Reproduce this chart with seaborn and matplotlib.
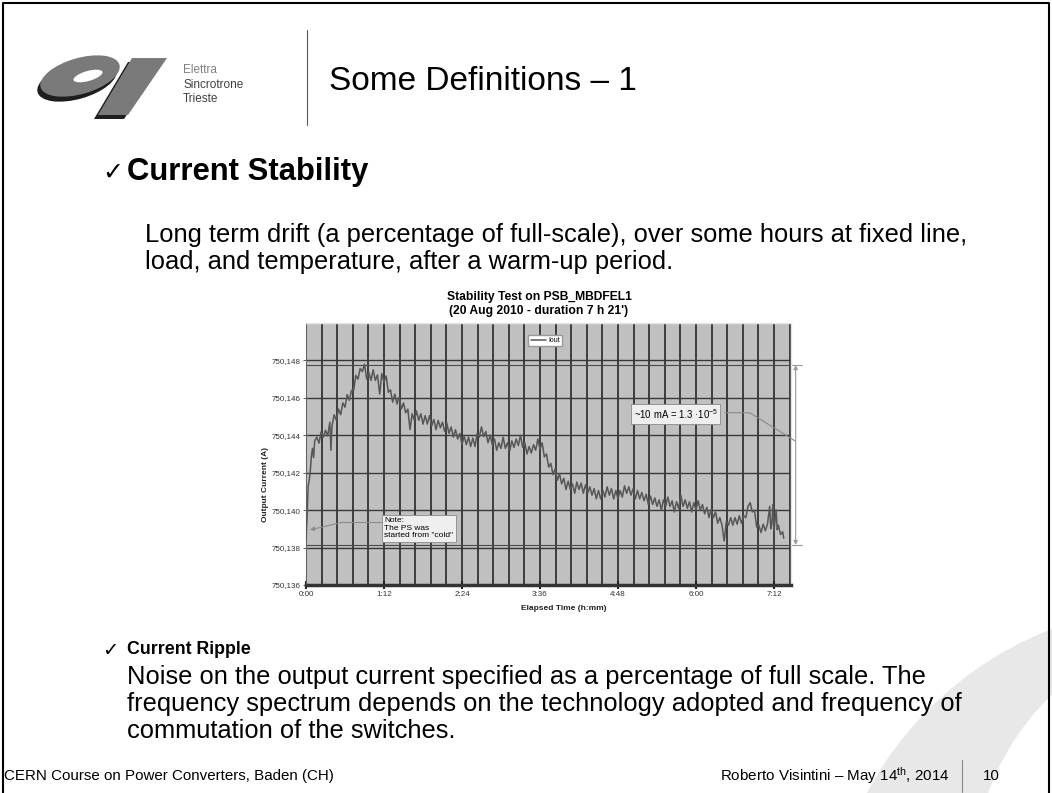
import matplotlib
matplotlib.use("Agg")
import pandas as pd
import matplotlib.pyplot as plt
import seaborn as sns
from matplotlib.patches import Ellipse, Polygon, Circle
from matplotlib.ticker import MultipleLocator, FixedLocator

# --- data (elapsed minutes, output current in A) ---
elapsed_min = [
    0, 1, 2, 3, 4, 5, 6, 7, 8, 10,
    12, 14, 16, 18, 20, 22, 23, 24, 26, 28,
    30, 32, 34, 36, 38, 40, 42, 44, 46, 48,
    50, 52, 54, 56, 58, 60, 62, 64, 66, 68,
    70, 72, 74, 76, 78, 80, 82, 84, 86, 88,
    90, 92, 94, 96, 98, 100, 102, 104, 106, 108,
    110, 112, 114, 116, 118, 120, 122, 124, 126, 128,
    130, 132, 134, 136, 138, 140, 142, 144, 146, 148,
    150, 152, 154, 156, 158, 160, 162, 164, 166, 168,
    170, 172, 174, 176, 178, 180, 182, 184, 186, 188,
    190, 192, 194, 196, 198, 200, 202, 204, 206, 208,
    210, 212, 214, 216, 218, 220, 222, 224, 226, 228,
    230, 232, 234, 236, 238, 240, 242, 244, 246, 248,
    250, 252, 254, 256, 258, 260, 262, 264, 266, 268,
    270, 272, 274, 276, 278, 280, 282, 284, 286, 288,
    290, 292, 294, 296, 298, 300, 302, 304, 306, 308,
    310, 312, 314, 316, 318, 320, 322, 324, 326, 328,
    330, 332, 334, 336, 338, 340, 342, 344, 346, 348,
    350, 352, 354, 356, 358, 360, 362, 364, 366, 368,
    370, 372, 374, 376, 378, 380, 382, 384, 386, 388,
    390, 392, 394, 396, 398, 400, 402, 404, 406, 408,
    410, 412, 414, 416, 418, 420, 422, 424, 426,
    428, 429, 430, 431, 432, 434, 435, 436, 438, 440, 441,
]
iout_a = [
    750.13840, 750.13960, 750.14130, 750.14160, 750.14210, 750.14290, 750.14330, 750.14280, 750.14370, 750.14390,
    750.14358, 750.14420, 750.14390, 750.14427, 750.14397, 750.14470, 750.14320, 750.14450, 750.14510, 750.14480,
    750.14540, 750.14510, 750.14573, 750.14550, 750.14617, 750.14587, 750.14640, 750.14640, 750.14720, 750.14700,
    750.14757, 750.14740, 750.14780, 750.14700, 750.14737, 750.14693, 750.14750, 750.14693, 750.14723, 750.14620,
    750.14730, 750.14683, 750.14717, 750.14630, 750.14643, 750.14577, 750.14620, 750.14567, 750.14603, 750.14540,
    750.14573, 750.14520, 750.14540, 750.14430, 750.14515, 750.14480, 750.14530, 750.14480, 750.14515, 750.14460,
    750.14505, 750.14460, 750.14505, 750.14450, 750.14485, 750.14430, 750.14480, 750.14440, 750.14470, 750.14420,
    750.14465, 750.14410, 750.14445, 750.14390, 750.14430, 750.14380, 750.14410, 750.14350, 750.14395, 750.14350,
    750.14390, 750.14340, 750.14385, 750.14340, 750.14410, 750.14390, 750.14445, 750.14393, 750.14420, 750.14360,
    750.14400, 750.14350, 750.14380, 750.14320, 750.14360, 750.14330, 750.14390, 750.14330, 750.14360, 750.14315,
    750.14370, 750.14335, 750.14380, 750.14345, 750.14400, 750.14335, 750.14360, 750.14300, 750.14340, 750.14305,
    750.14350, 750.14320, 750.14380, 750.14325, 750.14360, 750.14285, 750.14300, 750.14230, 750.14250, 750.14190,
    750.14220, 750.14160, 750.14195, 750.14140, 750.14170, 750.14110, 750.14155, 750.14110, 750.14140, 750.14090,
    750.14150, 750.14110, 750.14145, 750.14090, 750.14135, 750.14090, 750.14125, 750.14080, 750.14115, 750.14060,
    750.14105, 750.14060, 750.14105, 750.14070, 750.14125, 750.14080, 750.14115, 750.14060, 750.14105, 750.14060,
    750.14105, 750.14070, 750.14130, 750.14090, 750.14125, 750.14080, 750.14115, 750.14060, 750.14105, 750.14060,
    750.14095, 750.14050, 750.14085, 750.14030, 750.14075, 750.14030, 750.14065, 750.14020, 750.14055, 750.14000,
    750.14055, 750.14020, 750.14070, 750.14020, 750.14050, 750.13990, 750.14045, 750.14010, 750.14080, 750.14020,
    750.14055, 750.14010, 750.14045, 750.13990, 750.14040, 750.14000, 750.14050, 750.14000, 750.14030, 750.13980,
    750.14015, 750.13960, 750.14005, 750.13960, 750.13990, 750.13930, 750.13960, 750.13920, 750.13835, 750.13940,
    750.13920, 750.13960, 750.13920, 750.13960, 750.13925, 750.13970, 750.13930, 750.13970, 750.13960, 750.14020,
    750.14040, 750.13990, 750.14000, 750.13910, 750.13920, 750.13880, 750.13925, 750.13890, 750.13925,
    750.14020, 750.13900, 750.13925, 750.14030, 750.13890, 750.14000, 750.13895, 750.13920, 750.13870, 750.13885, 750.13850,
]

x_ticks_min = [0, 72, 144, 216, 288, 360, 432]
x_tick_labels = ["0:00", "1:12", "2:24", "3:36", "4:48", "6:00", "7:12"]
y_ticks_a = [750.136, 750.138, 750.140, 750.142, 750.144, 750.146, 750.148]
y_tick_labels = ["750,136", "750,138", "750,140", "750,142", "750,144", "750,146", "750,148"]
band_top_a = 750.14775      # ~10 mA band marked on the chart
band_bottom_a = 750.13814

df = pd.DataFrame({"elapsed": elapsed_min, "Iout": iout_a})

sns.set_theme(style="white")
plt.rcParams["font.family"] = ["Liberation Sans", "DejaVu Sans"]
plt.rcParams["text.color"] = "black"
plt.rcParams["mathtext.fontset"] = "custom"
plt.rcParams["mathtext.rm"] = "Liberation Sans"
plt.rcParams["mathtext.it"] = "Liberation Sans:italic"
plt.rcParams["mathtext.bf"] = "Liberation Sans:bold"

fig = plt.figure(figsize=(10.52, 7.93), dpi=100)

# slide background layer in pixel units
bg = fig.add_axes([0, 0, 1, 1])
bg.set_xlim(0, 1052)
bg.set_ylim(793, 0)
bg.axis("off")

# pale ring in the bottom right corner
bg.add_patch(Circle((1180, 960), 355, color="#e8e8e8", lw=0, zorder=0))
bg.add_patch(Circle((1230, 880), 257, color="white", lw=0, zorder=0.5))
bg.plot([3, 3, 1049, 1049], [800, 3, 3, 800], color="black", lw=1.5, zorder=1)

# Elettra logo
shadow, grey = "#1e1e1e", "#7a7a7a"
bg.add_patch(Ellipse((77, 81), 82, 36, angle=-16, color=shadow, lw=0, zorder=2))
bg.add_patch(Polygon([(128, 62), (162, 62), (124, 119), (94, 119)], color=shadow, lw=0, zorder=2))
bg.add_patch(Ellipse((80, 76), 82, 36, angle=-16, color=grey, lw=0, zorder=3))
bg.add_patch(Polygon([(132, 58), (167, 58), (128, 115), (98, 115)], color=grey, lw=0, zorder=3))
bg.add_patch(Ellipse((88, 76), 30, 10, angle=-16, color="white", lw=0, zorder=4))
bg.text(183, 70, "Elettra", fontsize=8.5, color="#808080", va="center")
bg.text(183, 85, "Sincrotrone", fontsize=8.5, color="#404040", va="center")
bg.text(183, 99, "Trieste", fontsize=8.5, color="#404040", va="center")
bg.plot([307, 307], [30, 125], color="#555555", lw=0.8)
bg.text(329, 82, "Some Definitions – 1", fontsize=24, va="center")

# Current stability bullet
bg.text(102, 173, "✓", fontsize=18, family="DejaVu Sans", va="center")
bg.text(127, 172, "Current Stability", fontsize=22.3, fontweight="bold", va="center")
bg.text(145, 235, "Long term drift (a percentage of full-scale), over some hours at fixed line,",
        fontsize=18.4, va="center")
bg.text(145, 262, "load, and temperature, after a warm-up period.", fontsize=18.4, va="center")

# Current ripple bullet
bg.text(102, 650, "✓", fontsize=14, family="DejaVu Sans", va="center")
bg.text(127, 650, "Current Ripple", fontsize=12.8, fontweight="bold", va="center")
bg.text(127, 677, "Noise on the output current specified as a percentage of full scale. The",
        fontsize=18.4, va="center")
bg.text(127, 704, "frequency spectrum depends on the technology adopted and frequency of",
        fontsize=18.4, va="center")
bg.text(127, 731, "commutation of the switches.", fontsize=18.4, va="center")

# footer
bg.text(4, 776, "CERN Course on Power Converters, Baden (CH)", fontsize=10.9, va="center")
bg.text(950, 776, "Roberto Visintini – May 14$^{\\mathrm{th}}$, 2014", fontsize=10.9, va="center", ha="right")
bg.plot([962, 962], [760, 792], color="#888888", lw=0.8)
bg.text(983, 776, "10", fontsize=10.9, va="center")

# chart title
bg.text(539, 297, "Stability Test on PSB_MBDFEL1", fontsize=8.75, fontweight="bold", ha="center", va="center")
bg.text(539, 311, "(20 Aug 2010 - duration 7 h 21')", fontsize=8.75, fontweight="bold", ha="center", va="center")

# --- the chart ---
ax = fig.add_axes([306 / 1052, 1 - 585 / 793, 485 / 1052, 262 / 793])
ax.set_zorder(3)
ax.set_facecolor("#c0c0c0")
sns.lineplot(data=df, x="elapsed", y="Iout", ax=ax, color="#575757", lw=1.1,
             estimator=None, label="Iout", zorder=3)
ax.set_xlim(0, 447.7)
ax.set_ylim(750.136, 750.150)

ax.xaxis.set_major_locator(FixedLocator(x_ticks_min))
ax.set_xticklabels(x_tick_labels)
ax.xaxis.set_minor_locator(MultipleLocator(14.4))
ax.set_yticks(y_ticks_a)
ax.set_yticklabels(y_tick_labels)
ax.set_axisbelow(True)
ax.grid(which="both", axis="x", color="#333333", lw=1.3)
ax.grid(which="major", axis="y", color="#383838", lw=1.0)

ax.tick_params(axis="x", which="major", direction="inout", length=6, width=1.5, color="#222222",
               labelsize=5.8, labelcolor="#333333", pad=1.5, bottom=True)
ax.tick_params(axis="x", which="minor", length=0)
ax.tick_params(axis="y", direction="inout", length=4, width=0.6, color="#444444",
               labelsize=5.8, labelcolor="#333333", pad=2, left=True)
for side in ["top", "right"]:
    ax.spines[side].set_color("#e6e6e6")
    ax.spines[side].set_linewidth(1)
ax.spines["left"].set_color("#666666")
ax.spines["left"].set_linewidth(0.8)
ax.spines["bottom"].set_color("#333333")
ax.spines["bottom"].set_linewidth(2.5)

ax.set_xlabel("Elapsed Time (h:mm)", fontsize=6, fontweight="bold", color="#222222")
ax.set_ylabel("Output Current (A)", fontsize=6, fontweight="bold", color="#222222")
ax.xaxis.set_label_coords(0.532, -0.076)
ax.yaxis.set_label_coords(-0.076, 0.385)

ax.legend(loc="upper center", bbox_to_anchor=(0.493, 0.967), fontsize=5, frameon=True,
          fancybox=False, edgecolor="#999999", framealpha=1, handlelength=2.2,
          borderpad=0.3, handletextpad=0.3)

# ~10 mA band markers
for level in [band_top_a, band_bottom_a]:
    ax.plot([0, 447.7], [level, level], color="#4a4a4a", lw=0.8, zorder=2)
    ax.plot([447.7, 457.6], [level, level], color="#9a9a9a", lw=0.8, clip_on=False)
ax.annotate("", xy=(452, band_top_a), xytext=(452, band_bottom_a),
            arrowprops=dict(arrowstyle="<|-|>", color="#9a9a9a", lw=0.8, mutation_scale=6,
                            shrinkA=0, shrinkB=0), annotation_clip=False)
ax.plot([386.8, 409.8, 452], [750.14521, 750.1452, 750.14368], color="#8a8a8a", lw=0.8,
        clip_on=False, zorder=4)
ax.text(302.5, 750.14513, "~10 mA = 1.3 ·10$^{-5}$", fontsize=6.9, va="center", ha="left", zorder=5,
        bbox=dict(boxstyle="square,pad=0.3", fc="#efefef", ec="#8a8a8a", lw=0.6))

# note about the cold start
ax.plot([34.4, 69.9], [750.13936, 750.13936], color="#8a8a8a", lw=0.8, zorder=4)
ax.annotate("", xy=(3.7, 750.13895), xytext=(34.4, 750.13936),
            arrowprops=dict(arrowstyle="-|>", color="#8a8a8a", lw=0.8, mutation_scale=6,
                            shrinkA=0, shrinkB=0))
ax.text(72.3, 750.13962, "Note:\nThe PS was\nstarted from \"cold\"", fontsize=6, va="top", ha="left",
        linespacing=1.1, zorder=5,
        bbox=dict(boxstyle="square,pad=0.3", fc="#efefef", ec="#8a8a8a", lw=0.6))

fig.savefig("out.png", dpi=100)
